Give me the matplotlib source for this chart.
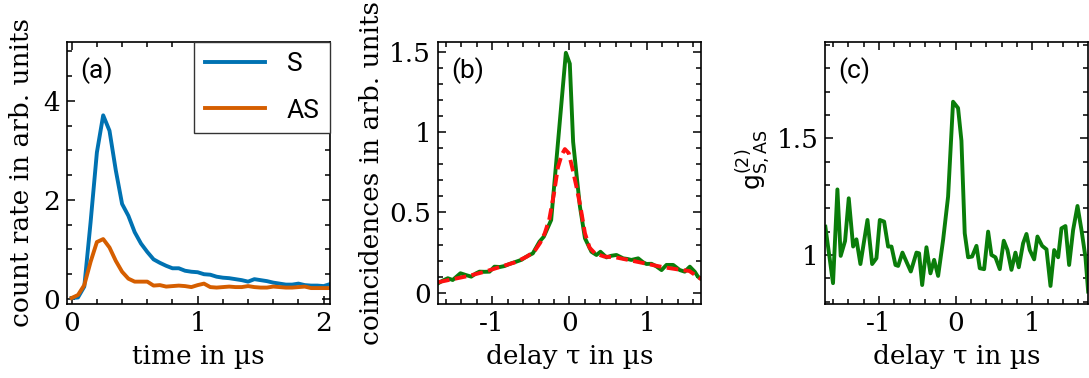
import matplotlib
matplotlib.use('Agg')
import matplotlib.pyplot as plt
from matplotlib.ticker import MultipleLocator

plt.rcParams['font.family'] = ['DejaVu Serif']
plt.rcParams['mathtext.fontset'] = 'dejavusans'
plt.rcParams['axes.unicode_minus'] = False
plt.rcParams['font.size'] = 19

# (a) count rates
t_a = [0.0, 0.05, 0.1, 0.15, 0.2, 0.25, 0.3, 0.35, 0.4, 0.45, 0.5, 0.55, 0.6, 0.65,
       0.7, 0.75, 0.8, 0.85, 0.9, 0.95, 1.0, 1.05, 1.1, 1.15, 1.2, 1.25, 1.3, 1.35,
       1.4, 1.45, 1.5, 1.55, 1.6, 1.65, 1.7, 1.75, 1.8, 1.85, 1.9, 1.95, 2.0, 2.05]
rate_S = [0.02, 0.03, 0.25, 1.55, 2.96, 3.71, 3.4, 2.6, 1.92, 1.68, 1.35, 1.12, 0.95, 0.8,
          0.73, 0.67, 0.62, 0.62, 0.57, 0.55, 0.54, 0.5, 0.49, 0.45, 0.43, 0.42, 0.4, 0.38,
          0.35, 0.4, 0.38, 0.36, 0.33, 0.31, 0.29, 0.29, 0.31, 0.28, 0.27, 0.27, 0.26, 0.3]
rate_AS = [0.02, 0.08, 0.28, 0.75, 1.15, 1.21, 1.04, 0.77, 0.55, 0.41, 0.35, 0.35, 0.35, 0.27,
           0.28, 0.25, 0.26, 0.27, 0.26, 0.24, 0.28, 0.31, 0.24, 0.23, 0.24, 0.25, 0.24, 0.24,
           0.26, 0.24, 0.23, 0.23, 0.25, 0.24, 0.23, 0.23, 0.24, 0.25, 0.22, 0.22, 0.22, 0.22]

# (b) coincidences, measured and model
tau_b = [-1.70, -1.64, -1.573, -1.51, -1.41, -1.34, -1.27, -1.21, -1.164, -1.10, -1.034,
         -0.97, -0.90, -0.84, -0.77, -0.69, -0.62, -0.56, -0.474, -0.388, -0.332, -0.237,
         -0.047, 0.004, 0.047, 0.09, 0.134, 0.2, 0.284, 0.349, 0.40, 0.478, 0.54, 0.607,
         0.694, 0.75, 0.80, 0.888, 0.95, 0.995, 1.06, 1.12, 1.19, 1.254, 1.34, 1.426, 1.49,
         1.556, 1.62, 1.66, 1.71]
coin_b = [0.058, 0.075, 0.09, 0.079, 0.121, 0.11, 0.10, 0.12, 0.131, 0.13, 0.131,
          0.162, 0.16, 0.166, 0.18, 0.193, 0.205, 0.224, 0.245, 0.318, 0.349, 0.453,
          1.495, 1.427, 0.94, 0.74, 0.54, 0.339, 0.255, 0.235, 0.255, 0.22, 0.23, 0.235,
          0.214, 0.21, 0.204, 0.214, 0.19, 0.179, 0.18, 0.165, 0.141, 0.173, 0.173, 0.141, 0.131,
          0.162, 0.13, 0.10, 0.083]
tau_r = [-1.70, -1.5, -1.3, -1.1, -0.9, -0.7, -0.55, -0.45, -0.38, -0.32, -0.26, -0.2, -0.15,
         -0.1, -0.06, -0.01, 0.04, 0.09, 0.14, 0.2, 0.26, 0.33, 0.45, 0.6, 0.8, 1.0, 1.2, 1.4,
         1.55, 1.7]
coin_r = [0.065, 0.085, 0.105, 0.13, 0.16, 0.19, 0.225, 0.26, 0.31, 0.37, 0.46, 0.62, 0.78,
          0.86, 0.895, 0.87, 0.77, 0.66, 0.54, 0.37, 0.28, 0.245, 0.225, 0.22, 0.2, 0.18, 0.16,
          0.145, 0.135, 0.085]

# (c) g2
tau_c = [-1.70, -1.60, -1.543, -1.50, -1.443, -1.395, -1.338, -1.295, -1.243, -1.151, -1.09,
         -1.034, -0.99, -0.934, -0.882, -0.838, -0.786, -0.751, -0.695, -0.643, -0.586, -0.512,
         -0.478, -0.438, -0.382, -0.33, -0.282, -0.23, -0.165, -0.1, -0.035, 0.03, 0.074, 0.117,
         0.161, 0.213, 0.27, 0.313, 0.37, 0.422, 0.465, 0.517, 0.574, 0.626, 0.674, 0.726, 0.778,
         0.822, 0.878, 0.922, 0.965, 1.022, 1.065, 1.126, 1.183, 1.235, 1.283, 1.335, 1.378, 1.43,
         1.478, 1.53, 1.587, 1.639, 1.691, 1.726]
g2_c = [1.121, 0.879, 1.281, 0.996, 1.06, 1.243, 1.036, 1.067, 0.961, 1.15, 0.961,
        0.986, 1.15, 1.143, 1.036, 1.036, 0.957, 0.953, 1.01, 0.971, 0.929, 1.01,
        1.007, 0.871, 1.033, 0.921, 0.979, 0.91, 1.064, 1.25, 1.657, 1.63, 1.49, 1.093,
        0.99, 0.993, 1.039, 0.943, 0.939, 1.1, 1.0, 0.99, 0.939, 1.061, 1.021, 0.936, 1.01,
        0.947, 1.05, 1.09, 1.021, 0.981, 1.079, 1.039, 1.024, 0.867, 1.021, 0.99, 1.114, 1.124,
        0.957, 1.107, 1.21, 1.107, 0.99, 0.843]

blue = '#0072b2'
orange = '#d55e00'
green = '#0a7d0a'
red = '#ff1010'
lw = 2.8
sans = ['Roboto', 'DejaVu Sans']

fig = plt.figure(figsize=(10.89, 3.78), dpi=100)
bottom, height = 0.196, 0.694
ax1 = fig.add_axes([0.0612, bottom, 0.2418, height])
ax2 = fig.add_axes([0.4022, bottom, 0.2415, height])
ax3 = fig.add_axes([0.7579, bottom, 0.2416, height])

for ax in (ax1, ax2, ax3):
    ax.tick_params(which='both', direction='in', top=True, right=True, width=1.1)
    ax.tick_params(which='major', length=6, pad=5)
    ax.tick_params(which='minor', length=3.5)
    for s in ax.spines.values():
        s.set_linewidth(1.2)

# (a)
ax1.plot(t_a, rate_S, color=blue, lw=lw, label='S')
ax1.plot(t_a, rate_AS, color=orange, lw=lw, label='AS')
ax1.set_xlim(-0.04, 2.05)
ax1.set_ylim(-0.1, 5.2)
ax1.set_xticks([0, 1, 2])
ax1.set_yticks([0, 2, 4])
ax1.xaxis.set_minor_locator(MultipleLocator(0.2))
ax1.yaxis.set_minor_locator(MultipleLocator(0.5))
ax1.set_xlabel('time in µs', labelpad=6)
ax1.set_ylabel('count rate in arb. units', labelpad=6)
ax1.text(0.05, 0.94, '(a)', transform=ax1.transAxes, va='top', ha='left', family=sans)
leg = ax1.legend(loc='upper right', borderaxespad=0, fancybox=False, framealpha=1,
                 edgecolor='#333333', handlelength=2.3, handletextpad=0.8,
                 borderpad=0.4, labelspacing=0.85, prop={'family': sans, 'size': 19})
leg.get_frame().set_linewidth(1.0)

# (b)
ax2.plot(tau_b, coin_b, color=green, lw=lw)
ax2.plot(tau_r, coin_r, color=red, lw=lw, ls=(0, (3.0, 1.4)))
ax2.set_xlim(-1.7, 1.7)
ax2.set_ylim(-0.07, 1.565)
ax2.set_xticks([-1, 0, 1])
ax2.set_yticks([0, 0.5, 1, 1.5])
ax2.set_yticklabels(['0', '0.5', '1', '1.5'])
ax2.xaxis.set_minor_locator(MultipleLocator(0.2))
ax2.yaxis.set_minor_locator(MultipleLocator(0.1))
ax2.set_xlabel('delay τ in µs', labelpad=6)
ax2.set_ylabel('coincidences in arb. units', labelpad=4)
ax2.text(0.05, 0.94, '(b)', transform=ax2.transAxes, va='top', ha='left', family=sans)

# (c)
ax3.plot(tau_c, g2_c, color=green, lw=lw)
ax3.set_xlim(-1.7, 1.73)
ax3.set_ylim(0.79, 1.915)
ax3.set_xticks([-1, 0, 1])
ax3.set_yticks([1, 1.5])
ax3.set_yticklabels(['1', '1.5'])
ax3.xaxis.set_minor_locator(MultipleLocator(0.2))
ax3.yaxis.set_minor_locator(MultipleLocator(0.1))
ax3.set_xlabel('delay τ in µs', labelpad=6)
ax3.set_ylabel(r'$\mathrm{g}^{(2)}_{\mathrm{S,AS}}$', fontsize=18, labelpad=2)
ax3.yaxis.set_label_coords(-0.2, 0.55)
ax3.text(0.05, 0.94, '(c)', transform=ax3.transAxes, va='top', ha='left', family=sans)

fig.savefig('out.png', dpi=100)
